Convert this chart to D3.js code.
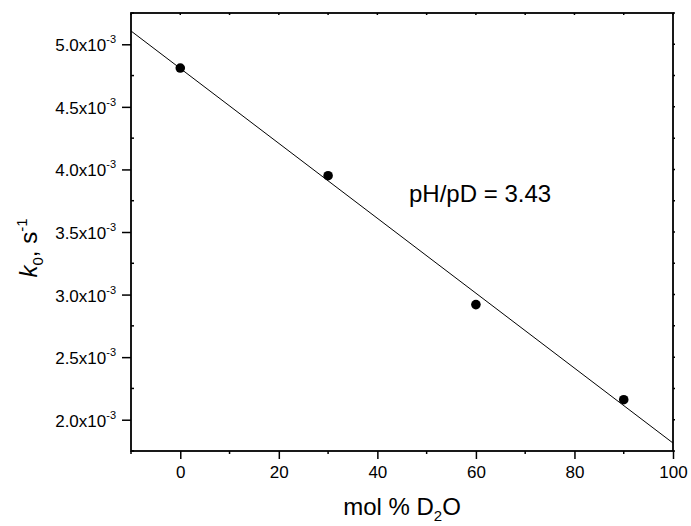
<!DOCTYPE html>
<html>
<head>
    <script src="https://d3js.org/d3.v7.min.js"></script>
    <style>
        body { margin: 0; background: #fff; }
        text { font-family: 'Liberation Sans', Arial, sans-serif; fill: #000; }
    </style>
</head>
<body>
    <svg id="chart" width="691" height="526"></svg>
    <script type="text/javascript">
        // data
        var molD2O = [0, 30, 60, 90];
        var k0 = [4.81e-3, 3.95e-3, 2.92e-3, 2.16e-3];
        var xTicks = [0, 20, 40, 60, 80, 100];
        var yTicks = [2.0e-3, 2.5e-3, 3.0e-3, 3.5e-3, 4.0e-3, 4.5e-3, 5.0e-3];
        var xMinor = [-10, 10, 30, 50, 70, 90];
        var yMinor = [1.75e-3, 2.25e-3, 2.75e-3, 3.25e-3, 3.75e-3, 4.25e-3, 4.75e-3, 5.25e-3];
        var note = "pH/pD = 3.43";

        var plotL = 131, plotR = 673, plotT = 13, plotB = 451;
        var svg = d3.select("#chart");

        var x = d3.scaleLinear().domain([-10, 100]).range([plotL, plotR]);
        var y = d3.scaleLinear().domain([1.75e-3, 5.25e-3]).range([plotB, plotT]);

        // least squares fit line
        var mx = d3.mean(molD2O), my = d3.mean(k0);
        var sxy = d3.sum(molD2O, (d, i) => (d - mx) * (k0[i] - my));
        var sxx = d3.sum(molD2O, d => (d - mx) * (d - mx));
        var slope = sxy / sxx, icpt = my - slope * mx;
        var fitX = x.domain();

        svg.append("line")
            .attr("x1", x(fitX[0])).attr("y1", y(icpt + slope * fitX[0]))
            .attr("x2", x(fitX[1])).attr("y2", y(icpt + slope * fitX[1]))
            .attr("stroke", "#000").attr("stroke-width", 1);

        svg.selectAll("circle")
            .data(molD2O)
            .enter().append("circle")
            .attr("cx", d => x(d))
            .attr("cy", (d, i) => y(k0[i]))
            .attr("r", 4.8)
            .attr("fill", "#000");

        // axes
        var gx = svg.append("g").attr("transform", "translate(0," + plotB + ")")
            .call(d3.axisBottom(x).tickValues(xTicks).tickSize(8).tickSizeOuter(0).tickFormat(d3.format("d")));
        gx.attr("font-size", 17);
        gx.selectAll("text").attr("dy", null).attr("y", 27);

        var gy = svg.append("g").attr("transform", "translate(" + plotL + ",0)")
            .call(d3.axisLeft(y).tickValues(yTicks).tickSize(9).tickSizeOuter(0));
        gy.attr("font-size", 17);
        gy.selectAll("text").each(function(d) {
            var t = d3.select(this).text("")
                .attr("x", -15).attr("dy", null).attr("y", 6.5)
                .attr("text-anchor", "end");
            t.append("tspan").text((d * 1000).toFixed(1) + "x10");
            t.append("tspan").attr("font-size", 11).attr("dy", -8).text("-3");
        });

        svg.selectAll(".domain").remove();
        svg.selectAll(".tick line").attr("stroke-width", 1.5);

        // minor ticks
        svg.append("g").selectAll("line").data(xMinor).enter().append("line")
            .attr("x1", d => x(d)).attr("x2", d => x(d))
            .attr("y1", plotB).attr("y2", plotB + 3)
            .attr("stroke", "#000").attr("stroke-width", 1.5);
        svg.append("g").selectAll("line").data(yMinor).enter().append("line")
            .attr("y1", d => y(d)).attr("y2", d => y(d))
            .attr("x1", plotL).attr("x2", plotL + 3)
            .attr("stroke", "#000").attr("stroke-width", 1.5);

        // mirror ticks on top and right
        svg.append("g").selectAll("line").data(xTicks.concat(xMinor)).enter().append("line")
            .attr("x1", d => x(d)).attr("x2", d => x(d))
            .attr("y1", plotT).attr("y2", plotT + 2)
            .attr("stroke", "#000").attr("stroke-width", 1.5);
        svg.append("g").selectAll("line").data(yTicks.concat(yMinor)).enter().append("line")
            .attr("y1", d => y(d)).attr("y2", d => y(d))
            .attr("x1", plotR).attr("x2", plotR + 2)
            .attr("stroke", "#000").attr("stroke-width", 1.5);

        // frame
        svg.append("rect")
            .attr("x", plotL).attr("y", plotT)
            .attr("width", plotR - plotL).attr("height", plotB - plotT)
            .attr("fill", "none").attr("stroke", "#000").attr("stroke-width", 1.8);

        // titles
        var xt = svg.append("text").attr("x", (plotL + plotR) / 2).attr("y", 515)
            .attr("text-anchor", "middle").attr("font-size", 24);
        xt.append("tspan").text("mol % D");
        xt.append("tspan").attr("font-size", 15).attr("dy", 6).text("2");
        xt.append("tspan").attr("dy", -6).text("O");

        var yt = svg.append("text")
            .attr("transform", "translate(37,248) rotate(-90)")
            .attr("text-anchor", "middle").attr("font-size", 24);
        yt.append("tspan").attr("font-style", "italic").text("k");
        yt.append("tspan").attr("font-size", 15).attr("dy", 6).text("0");
        yt.append("tspan").attr("dy", -6).text(", s");
        yt.append("tspan").attr("font-size", 15).attr("dy", -10).text("-1");

        svg.append("text").attr("x", 409).attr("y", 202)
            .attr("font-size", 24).text(note);
    </script>
</body>
</html>
